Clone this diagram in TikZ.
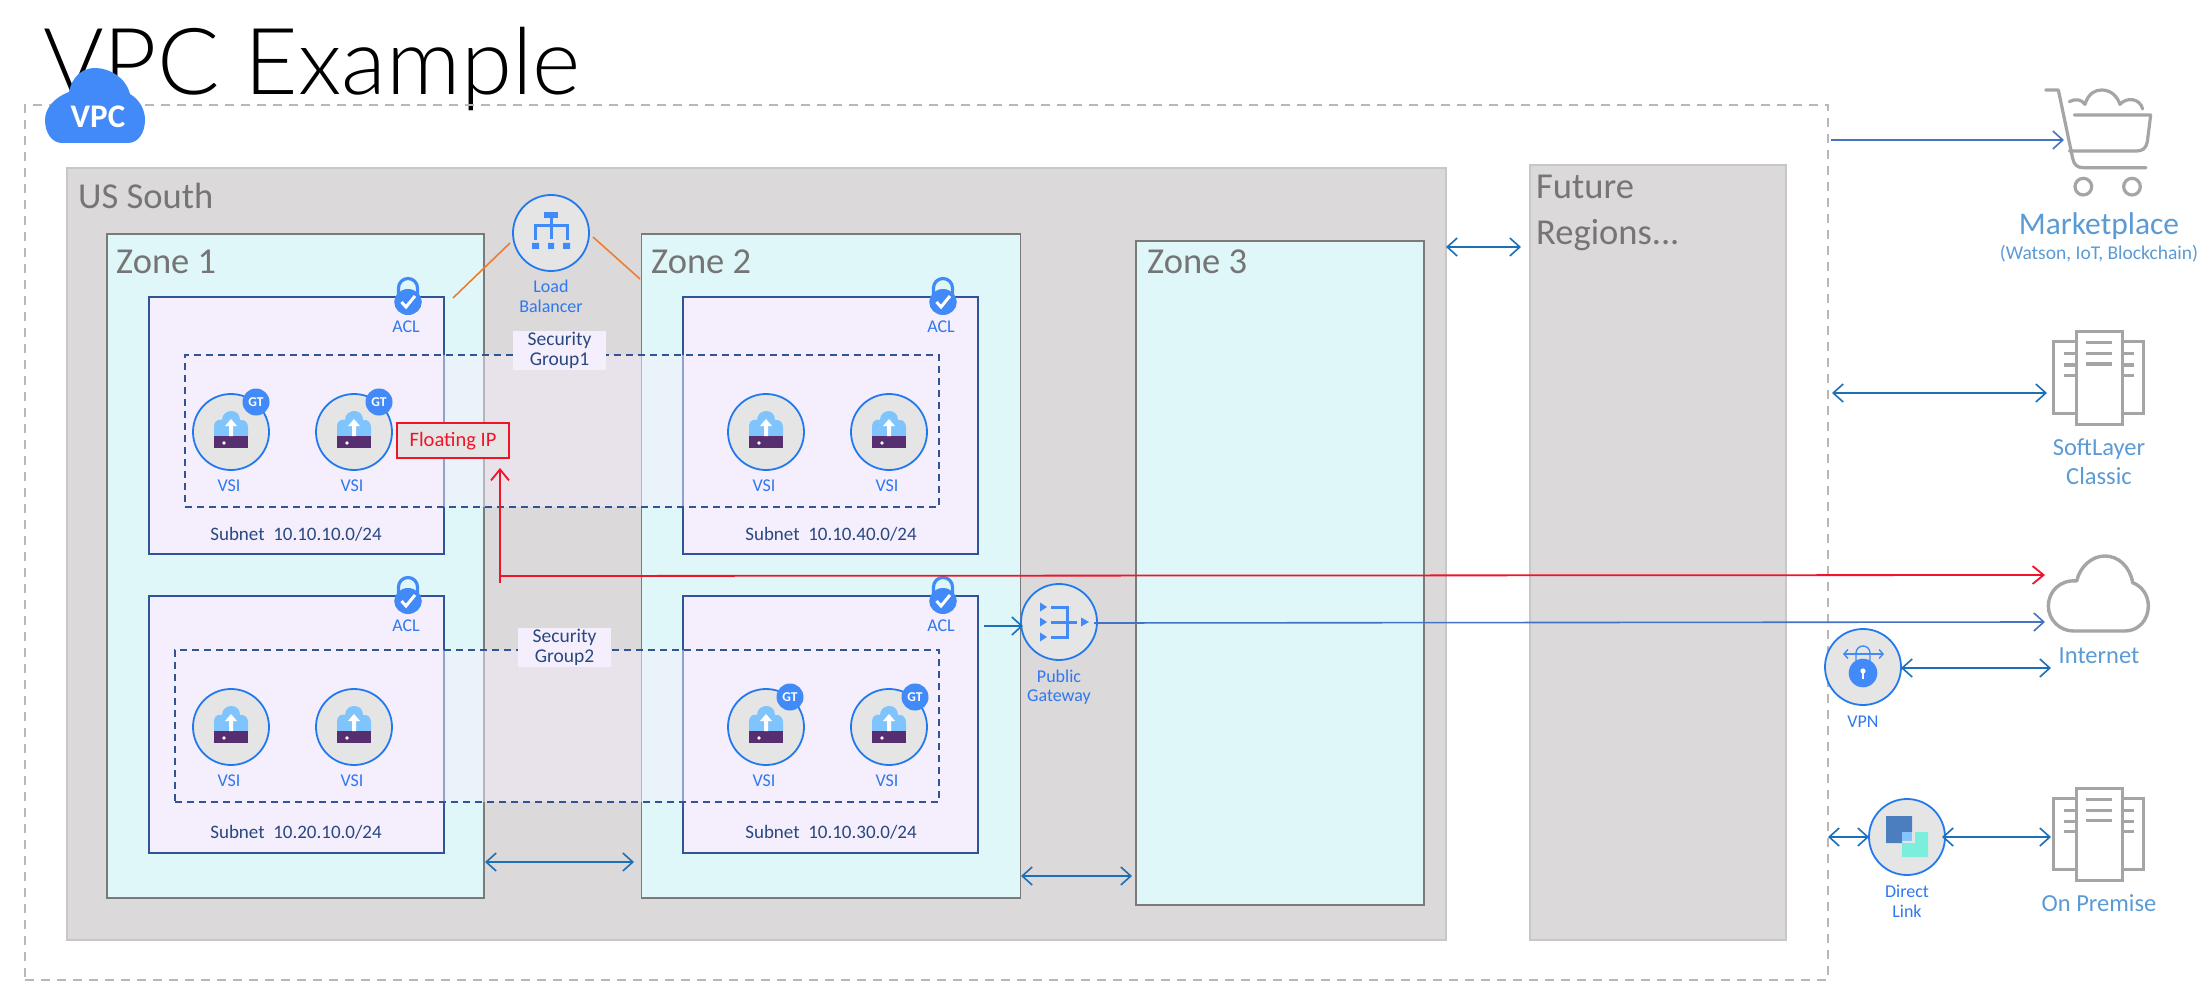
\documentclass[tikz,border=0pt]{standalone}
\usepackage{fontspec}
\setmainfont{Carlito}
\newfontfamily\titlefont{Lato Light}
\usetikzlibrary{arrows.meta,shapes.geometric}
\definecolor{iconblue}{HTML}{418AF8}
\definecolor{ringblue}{HTML}{2179F0}
\definecolor{lblblue}{HTML}{2F78EE}
\definecolor{extblue}{HTML}{5B9BD5}
\definecolor{zonefill}{HTML}{DFF7F8}
\definecolor{subfill}{HTML}{F5EEFD}
\definecolor{subline}{HTML}{2F5597}
\definecolor{regfill}{HTML}{DBD9DA}
\definecolor{greytxt}{HTML}{757575}
\definecolor{icongrey}{HTML}{A5A5A5}
\definecolor{arrdbl}{HTML}{1B70B8}
\definecolor{arrsgl}{HTML}{4472C4}
\definecolor{redline}{HTML}{F01428}
\definecolor{purplebox}{HTML}{572F70}
\definecolor{cloudlt}{HTML}{80C4FD}
\definecolor{dlblue}{HTML}{4A7EBF}
\definecolor{dlteal}{HTML}{7CEEDC}
\definecolor{dllight}{HTML}{85C5FF}
\definecolor{orangeln}{HTML}{ED7D31}
\newcommand{\fsz}[2]{\fontsize{#1}{#2}\selectfont}
\tikzset{
  x=1pt,y=-1pt,
  box/.style={draw,anchor=north west,inner sep=0pt,outer sep=0pt},
  region/.style={box,draw=black!22,fill=regfill,line width=2pt},
  zonebox/.style={box,draw=black!52,fill=zonefill,line width=1.8pt},
  subbox/.style={box,draw=subline,fill=subfill,line width=1.8pt},
  sgbox/.style={box,draw=subline,fill=subfill,fill opacity=0.5,line width=1.8pt,dash pattern=on 7pt off 5pt},
  sglabel/.style={fill=subfill,text=subline!85!black,align=center,minimum width=93pt,minimum height=39pt,inner sep=0pt,font=\fsz{19.5}{19.5}},
  ring/.style={circle,draw=ringblue,fill=black!10,line width=1.8pt,minimum size=76pt,inner sep=0pt,outer sep=0pt},
  blulbl/.style={text=lblblue,align=center,inner sep=0pt,font=\fsz{18}{19.5}},
  sublbl/.style={text=subline!85!black,inner sep=0pt,font=\fsz{19}{20}},
  bigtxt/.style={text=greytxt,anchor=west,inner sep=0pt,align=left,font=\fsz{36.5}{46}},
  exttxt/.style={text=extblue,align=center,inner sep=0pt,font=\fsz{24.5}{29}},
  gtbadge/.style={circle,fill=iconblue,minimum size=27pt,inner sep=0pt,text=white,font=\bfseries\fsz{13.5}{14}},
  dbl/.style={draw=arrdbl,line width=1.6pt,{Straight Barb[length=10pt,width=18pt,line width=1.6pt]}-{Straight Barb[length=10pt,width=18pt,line width=1.6pt]}},
  sgl/.style={draw=arrsgl,line width=1.6pt,-{Straight Barb[length=10pt,width=18pt,line width=1.6pt]}},
  redarr/.style={draw=redline,line width=1.8pt,-{Straight Barb[length=11pt,width=18pt,line width=1.8pt]}},
  orangestroke/.style={draw=orangeln,line width=1.6pt},
  vsiicon/.pic={
    \fill[cloudlt] (-17,4) -- (-17,-6) .. controls (-17,-12) and (-11,-13) .. (-9,-12)
      .. controls (-9,-18) and (-4,-21) .. (0,-21) .. controls (5,-21) and (9,-18) .. (9,-12)
      .. controls (14,-13) and (17,-9) .. (17,-5) -- (17,4) -- cycle;
    \fill[purplebox] (-17,4) rectangle (17,16);
    \fill[white] (-7,11) circle (1.8);
    \fill[white] (0,-13) -- (6,-6) -- (2,-6) -- (2,4) -- (-2,4) -- (-2,-6) -- (-6,-6) -- cycle;
  },
  lockicon/.pic={
    \draw[iconblue,line width=3.2pt] (-9.5,0) -- (-9.5,-13) arc[start angle=180,end angle=360,radius=9.5] -- (9.5,0);
    \fill[iconblue] (0,1) ellipse (13.8 and 13);
    \draw[white,line width=3pt] (-6.5,1) -- (-2,6) -- (7,-5);
  },
  servericon/.pic={
    \draw[icongrey,line width=3pt] (-46,-36) rectangle (44,35);
    \fill[white] (-23,-46) rectangle (23,46);
    \draw[icongrey,line width=3pt] (-23,-46) rectangle (23,46);
    \foreach \yy in {-35,-24,-14} \draw[icongrey,line width=3pt] (-13,\yy) -- (13,\yy);
    \foreach \yy in {-24,-13,-3} {\draw[icongrey,line width=3pt] (-35,\yy) -- (-23,\yy); \draw[icongrey,line width=3pt] (23,\yy) -- (35,\yy);}
  }
}
\begin{document}
\begin{tikzpicture}[x=1pt,y=-1pt]
\useasboundingbox[fill=white] (0,0) rectangle (2204,992);
% title
\node[anchor=base west,inner sep=0pt,text=black,font=\titlefont\fsz{92.5}{100}] (title) at (43,95) {VPC Example};
% outer dashed
\node[box,draw=black!28,line width=1.6pt,dash pattern=on 9pt off 7pt,minimum width=1803pt,minimum height=875pt] (vpcouter) at (25,105) {};
% regions
\node[region,minimum width=1379pt,minimum height=772pt] (ussouth) at (66.5,168) {};
\node[region,minimum width=256pt,minimum height=775pt] (future) at (1530,165) {};
\node[bigtxt] (ussouthT) at (78,196) {US South};
\node[bigtxt] (futureT) at (1536,213) {Future\\Regions...};
% zones
\node[zonebox,minimum width=377pt,minimum height=664pt] (zone1) at (107,234) {};
\node[zonebox,minimum width=379pt,minimum height=664pt] (zone2) at (641.5,234) {};
\node[zonebox,minimum width=288pt,minimum height=664pt] (zone3) at (1136,241) {};
\node[bigtxt] (zone1T) at (116,262) {Zone 1};
\node[bigtxt] (zone2T) at (651,262) {Zone 2};
\node[bigtxt] (zone3T) at (1147,262) {Zone 3};
% subnets
\node[subbox,minimum width=295pt,minimum height=257pt] (s1) at (149,297) {};
\node[subbox,minimum width=295pt,minimum height=257pt] (s2) at (683,297) {};
\node[subbox,minimum width=295pt,minimum height=257pt] (s3) at (149,596) {};
\node[subbox,minimum width=295pt,minimum height=257pt] (s4) at (683,596) {};
\node[sublbl] (s1T) at (296,534) {Subnet\ \ 10.10.10.0/24};
\node[sublbl] (s2T) at (831,534) {Subnet\ \ 10.10.40.0/24};
\node[sublbl] (s3T) at (296,832) {Subnet\ \ 10.20.10.0/24};
\node[sublbl] (s4T) at (831,832) {Subnet\ \ 10.10.30.0/24};
% security groups
\node[sgbox,minimum width=754pt,minimum height=152pt] (sg1) at (185,355) {};
\node[sgbox,minimum width=764pt,minimum height=152pt] (sg2) at (175,650) {};
\node[sglabel] (sg1T) at (559.5,350.5) {Security\\Group1};
\node[sglabel] (sg2T) at (564.5,647.5) {Security\\Group2};
% VSI
\foreach \nm/\cx/\cy in {a/231/432,b/354/432,c/766/432,d/889/432,e/231/727,f/354/727,g/766/727,h/889/727}{
  \node[ring] (vsi\nm) at (\cx,\cy) {};
  \pic at (\cx,\cy) {vsiicon};
  \node[blulbl] (vsi\nm T) at ({\cx-2},{\cy+54}) {VSI};
}
\node[gtbadge] (gta) at (256,402) {GT};
\node[gtbadge] (gtb) at (379,402) {GT};
\node[gtbadge] (gtg) at (790,697) {GT};
\node[gtbadge] (gth) at (915,697) {GT};
% ACL
\foreach \nm/\cx/\cy in {a/408/301,b/943/301,c/408/600,d/943/600}{
  \pic at (\cx,\cy) {lockicon};
  \node[blulbl] (acl\nm) at ({\cx-2},{\cy+26}) {ACL};
}
% Load balancer
\node[ring] (lb) at (551,233) {};
\fill[iconblue] (544,212) rectangle (558,218);
\draw[iconblue,line width=3pt] (551,218) -- (551,239) (535,240) -- (535,226) -- (567,226) -- (567,240);
\fill[iconblue] (532,243) rectangle (539,249) (548,243) rectangle (554,249) (563,243) rectangle (570,249);
\node[blulbl] (lbT) at (551,296.5) {Load\\Balancer};
\coordinate (lbL) at (510,243);
\coordinate (lbR) at (593,237);
\coordinate (z1lb) at (453,298);
\coordinate (z2lb) at (640,279);
\draw[orangestroke] (lbL) -- (z1lb);
\draw[orangestroke] (lbR) -- (z2lb);
% Floating IP
\node[box,draw=redline,fill=black!10,line width=2pt,minimum width=112pt,minimum height=35pt] (fip) at (397,423) {};
\node[text=redline,inner sep=0pt,font=\fsz{20.5}{22}] (fipT) at (453,441) {Floating IP};
% Public gateway
\node[ring] (pgw) at (1059,622) {};
\fill[iconblue] (1040,602.5) -- (1047,607) -- (1040,611.5) -- cycle;
\fill[iconblue] (1040,617.5) -- (1047,622) -- (1040,626.5) -- cycle;
\fill[iconblue] (1040,632.5) -- (1047,637) -- (1040,641.5) -- cycle;
\draw[iconblue,line width=3pt] (1051,607) -- (1067,607) -- (1067,637) -- (1051,637) (1051,622) -- (1077,622);
\fill[iconblue] (1081,617.5) -- (1089,622) -- (1081,626.5) -- cycle;
\node[blulbl] (pgwT) at (1059,687) {Public\\Gateway};
% VPC cloud badge
\path[fill=iconblue] (62,143) .. controls (52,143) and (45,133) .. (45,120)
  .. controls (45,108) and (55,97) .. (69,92)
  .. controls (72,77) and (82,68) .. (95,68)
  .. controls (110,68) and (126,78) .. (130,94)
  .. controls (140,100) and (145,110) .. (145,120)
  .. controls (145,133) and (138,143) .. (128,143) -- cycle;
\node[text=white,inner sep=0pt,font=\bfseries\fsz{33}{33}] (vpcT) at (98,117) {VPC};
% Marketplace cart
\begin{scope}[shift={(1780,60)},x=0.33333pt,y=-0.33333pt]
  \draw[icongrey,line width=3.2pt,line cap=round,line join=round]
    (797,90) -- (835,90) -- (878,295) .. controls (882,315) and (892,323) .. (910,323) -- (1098,323);
  \draw[icongrey,line width=3.2pt,line cap=round,line join=round]
    (883,165) -- (1112,165) -- (1102,245) .. controls (1098,265) and (1088,273) .. (1070,273) -- (868,273);
  \draw[icongrey,line width=3.2pt,line cap=round,line join=round]
    (868,125) .. controls (885,115) and (905,118) .. (915,133)
    .. controls (925,100) and (945,90) .. (965,90)
    .. controls (990,90) and (1010,105) .. (1020,133)
    .. controls (1040,110) and (1080,115) .. (1088,147);
  \draw[icongrey,line width=3.2pt] (910,380) circle[radius=25] (1056,380) circle[radius=25];
\end{scope}
\coordinate (cart) at (2064,140);
\node[exttxt,font=\fsz{31.5}{31.5}] (mkT) at (2099,226) {Marketplace};
\node[exttxt,font=\fsz{19.5}{21}] (mkS) at (2099,254) {(Watson, IoT, Blockchain)};
% SoftLayer
\pic at (2099,378) {servericon};
\coordinate (slL) at (2047,393);
\node[exttxt] (slT) at (2099,461.5) {SoftLayer\\Classic};
% Internet cloud
\begin{scope}[shift={(1780,520)},x=0.33333pt,y=-0.33333pt]
  \draw[icongrey,line width=3.4pt,line join=round]
    (880,333) -- (1035,333) .. controls (1075,333) and (1105,300) .. (1105,258)
    .. controls (1105,225) and (1085,198) .. (1058,188)
    .. controls (1050,140) and (1015,108) .. (975,108)
    .. controls (935,108) and (900,140) .. (890,183)
    .. controls (840,178) and (805,215) .. (805,258)
    .. controls (805,300) and (840,333) .. (880,333) -- cycle;
\end{scope}
\coordinate (inetA) at (2045,575);
\coordinate (inetB) at (2045,622);
\node[exttxt] (inetT) at (2099,656) {Internet};
% VPN
\node[ring] (vpn) at (1863,667) {};
\draw[iconblue,line width=1.4pt] (1856,662) -- (1856,653) arc[start angle=180,end angle=360,radius=7] -- (1870,662);
\draw[iconblue,line width=1.4pt,{Straight Barb[length=4pt,width=9pt]}-{Straight Barb[length=4pt,width=9pt]}] (1843,654) -- (1884,654);
\fill[iconblue] (1863,673) circle (14.3);
\fill[white] (1863,671) circle (2.6);
\fill[white] (1862,671) rectangle (1864,679);
\node[blulbl] (vpnT) at (1863,722) {VPN};
\coordinate (vpnR) at (2051,668);
\coordinate (vpnE) at (1901,668);
% Direct link
\node[ring] (dl) at (1907,837) {};
\fill[dlblue] (1886,816) -- (1912,816) -- (1912,832) -- (1902,832) -- (1902,843) -- (1886,843) -- cycle;
\fill[dlteal] (1915,832) -- (1928,832) -- (1928,857) -- (1902,857) -- (1902,843) -- (1915,843) -- cycle;
\fill[dllight] (1902,832) rectangle (1912,841);
\node[blulbl] (dlT) at (1907,901.5) {Direct\\Link};
\coordinate (dlL) at (1869,837);
\coordinate (dlR) at (1942,837);
\coordinate (vpcR) at (1828,837);
\coordinate (opL) at (2051,837);
% On premise
\pic at (2099,834) {servericon};
\node[exttxt] (opT) at (2099,903) {On Premise};
% connectors
\coordinate (vpcM) at (1831,140);
\coordinate (vpcS) at (1832,393);
\draw[sgl] (vpcM) -- (cart);
\draw[dbl] (vpcS) -- (slL);
\draw[dbl] (vpnE) -- (vpnR);
\draw[dbl] (vpcR) -- (dlL);
\draw[dbl] (dlR) -- (opL);
\coordinate (z12a) at (485,862);
\coordinate (z12b) at (634,862);
\draw[dbl] (z12a) -- (z12b);
\coordinate (z23a) at (1021,876);
\coordinate (z23b) at (1132,876);
\draw[dbl] (z23a) -- (z23b);
\coordinate (regA) at (1446,247);
\coordinate (regB) at (1521,247);
\draw[dbl] (regA) -- (regB);
\coordinate (aclPg) at (984,626);
\coordinate (pgIn) at (1023,626);
\draw[draw=arrdbl,line width=1.6pt,-{Straight Barb[length=10pt,width=18pt,line width=1.6pt]}] (aclPg) -- (pgIn);
\coordinate (pgOut) at (1094,623);
\draw[sgl] (pgOut) -- (inetB);
\coordinate (fipFoot) at (500,583);
\coordinate (fipTip) at (500,468);
\coordinate (redStart) at (499,576);
\draw[redarr] (fipFoot) -- (fipTip);
\draw[redarr] (redStart) -- (inetA);
\end{tikzpicture}
\end{document}
